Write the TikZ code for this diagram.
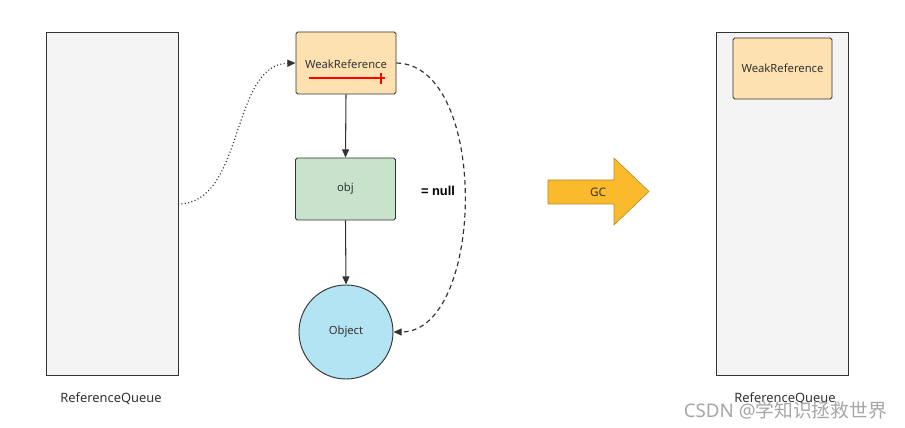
\documentclass[tikz,border=0pt]{standalone}
\usepackage{fontspec}
\setmainfont{Noto Sans}
\newfontfamily\cjkfont{Noto Sans CJK SC}
\newfontfamily\eqfont{Liberation Sans}
\usetikzlibrary{arrows.meta}
\definecolor{qfill}{HTML}{F4F4F4}
\definecolor{wrfill}{HTML}{FDE1B0}
\definecolor{objfill}{HTML}{C9E3CA}
\definecolor{circfill}{HTML}{B2E4F3}
\definecolor{gcfill}{HTML}{FBBA2C}
\definecolor{gcdraw}{HTML}{B08A30}
\definecolor{linec}{HTML}{333333}
\definecolor{txt}{HTML}{333333}
\tikzset{
  queue/.style={draw=linec, line width=0.8pt, fill=qfill, minimum width=132*0.03cm, minimum height=343*0.03cm, inner sep=0pt},
  box/.style={draw=linec, line width=0.8pt, rounded corners=1.5pt, minimum width=100*0.03cm, minimum height=62*0.03cm, inner sep=0pt, font=\fontsize{9.6}{11}\selectfont, text=txt},
  lbl/.style={font=\fontsize{11}{13}\selectfont, text=txt},
  conn/.style={draw=linec, line width=0.9pt, -{Triangle[length=7pt,width=6pt]}},
}
\begin{document}
\begin{tikzpicture}[x=0.03cm, y=-0.03cm]
\path[use as bounding box] (0,0) rectangle (905,428);
% left queue
\node[queue] (lq) at (112,203.5) {};
\node[lbl] (lqlabel) at (111,399) {ReferenceQueue};
% right queue
\node[queue] (rq) at (782,203.5) {};
\node[lbl] (rqlabel) at (785,398.5) {ReferenceQueue};
\node[box, fill=wrfill, minimum width=99*0.03cm, minimum height=61*0.03cm] (rwr) at (782.5,68.5) {WeakReference};
% weak reference
\node[box, fill=wrfill] (wr) at (346,63) {};
\node[font=\fontsize{9.6}{11}\selectfont, text=txt] (wrtext) at (346,64.5) {WeakReference};
\coordinate (rl1) at (309,78);
\coordinate (rl2) at (385,78);
\draw[red, line width=1.3pt] (rl1) -- (rl2);
\draw[red, line width=1pt] ([xshift=-4*0.03cm, yshift=-6*0.03cm]rl2) -- ([xshift=-4*0.03cm, yshift=5*0.03cm]rl2);
% obj
\node[box, fill=objfill] (obj) at (345.5,189) {obj};
% Object circle
\node[circle, draw=linec, line width=0.8pt, fill=circfill, minimum size=94*0.03cm, inner sep=0pt, font=\fontsize{9.6}{11}\selectfont, text=txt] (object) at (346,332) {Object};
% = null
\node[font=\eqfont\bfseries\fontsize{11}{13}\selectfont, text=black] (null) at (438,191) {= null};
% connectors
\draw[conn] (wr.south) -- (obj.north);
\draw[conn] (obj.south) -- (object.north);
\coordinate (lqout) at (178,204);
\draw[conn, dotted, line width=1pt] (lqout) .. controls (245,204) and (230,65) .. (wr.west);
\draw[conn, dashed, line width=1pt, dash pattern=on 4pt off 3pt] (wr.east) .. controls (490,65) and (485,332) .. (object.east);
% GC arrow
\draw[draw=gcdraw, line width=0.5pt, fill=gcfill] (548,180) -- (614,180) -- (614,158) -- (649,191.5) -- (614,225) -- (614,204) -- (548,204) -- cycle;
\node[font=\fontsize{10}{12}\selectfont, text=txt] (gctext) at (598,192) {GC};
% watermark
\node[font=\fontsize{16}{18}\selectfont, text=black!35, anchor=east] (wm) at (891,410) {CSDN @{\cjkfont 学知识拯救世界}};
\end{tikzpicture}
\end{document}
